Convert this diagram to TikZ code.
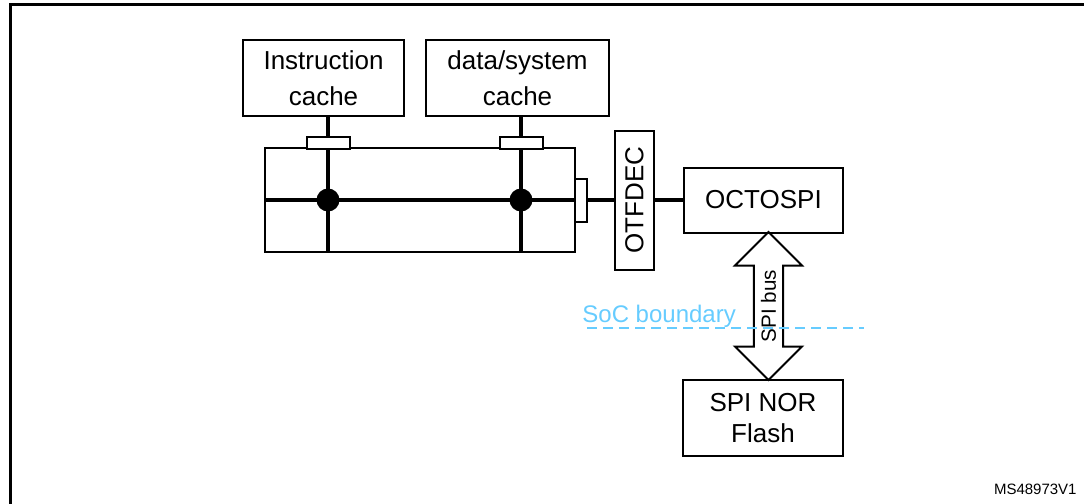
\documentclass[tikz,border=0pt]{standalone}
\usepackage{fontspec}
\setmainfont{Liberation Sans}
\usetikzlibrary{shapes.arrows,backgrounds}
\definecolor{socblue}{RGB}{102,204,255}

\begin{document}
\begin{tikzpicture}[x=0.5pt,y=-0.5pt,
  block/.style={draw,line width=1pt,align=center,inner sep=0pt,font=\fontsize{13}{18}\selectfont},
  port/.style={draw,fill=white,line width=1pt,inner sep=0pt},
  bus/.style={line width=2.2pt},
  junction/.style={fill,circle,minimum size=11.5pt,inner sep=0pt},
  busarrow/.style={draw,line width=1pt,double arrow,rotate=90,inner sep=0pt,
    minimum height=74pt,minimum width=33.5pt,double arrow head extend=5.5pt,
    font=\fontsize{10.3}{12}\selectfont},
  socline/.style={socblue,line width=1pt,dash pattern=on 5pt off 3pt}]
  \useasboundingbox (0,0) rectangle (1084,504);
  % frame
  \draw[line width=1.5pt] (10,510) -- (10,4) -- (1090,4);
  % blocks
  \node[block,minimum width=80.5pt,minimum height=38pt] (icache) at (323.5,78) {Instruction\\cache};
  \node[block,minimum width=91.5pt,minimum height=38pt] (dcache) at (517.5,78) {data/system\\cache};
  \node[draw,line width=0.75pt,minimum width=155pt,minimum height=52pt,inner sep=0pt] (xbar) at (420,200) {};
  \node[block,rotate=90,minimum width=69.5pt,minimum height=19.5pt] (otf) at (634.5,200) {OTFDEC};
  \node[block,minimum width=79.5pt,minimum height=32.5pt] (oct) at (763.5,200) {OCTOSPI};
  \node[block,minimum width=80pt,minimum height=38pt,font=\fontsize{13}{15.5}\selectfont] (flash) at (763,418) {SPI NOR\\Flash};
  % ports on the interconnect
  \node[port,minimum width=21.5pt,minimum height=6pt] (iport) at (328,143) {};
  \node[port,minimum width=21.5pt,minimum height=6pt] (dport) at (521,143) {};
  \node[port,minimum width=6pt,minimum height=21.5pt] (oport) at (581,200.5) {};
  \begin{scope}[on background layer]
    \draw[bus] (icache.south -| iport) -- (xbar.south -| iport);
    \draw[bus] (dcache.south -| dport) -- (xbar.south -| dport);
    \draw[bus] (xbar.west) -- (otf.north);
    \draw[bus] (otf.south) -- (oct.west);
  \end{scope}
  \node[junction] (ijunc) at (iport |- xbar) {};
  \node[junction] (djunc) at (dport |- xbar) {};
  % SPI bus
  \node[busarrow] (spibus) at (768.5,306) {SPI bus};
  % SoC boundary
  \coordinate (socL) at (587,328);
  \coordinate (socR) at (864,328);
  \draw[socline] (socL) -- (socR);
  \node[anchor=base west,inner sep=0pt,text=socblue,font=\fontsize{12}{14}\selectfont] (soc) at (582,322) {SoC boundary};
  \node[anchor=east,inner sep=0pt,font=\fontsize{7.5}{9}\selectfont] (ref) at (1077,489) {MS48973V1};
\end{tikzpicture}
\end{document}
